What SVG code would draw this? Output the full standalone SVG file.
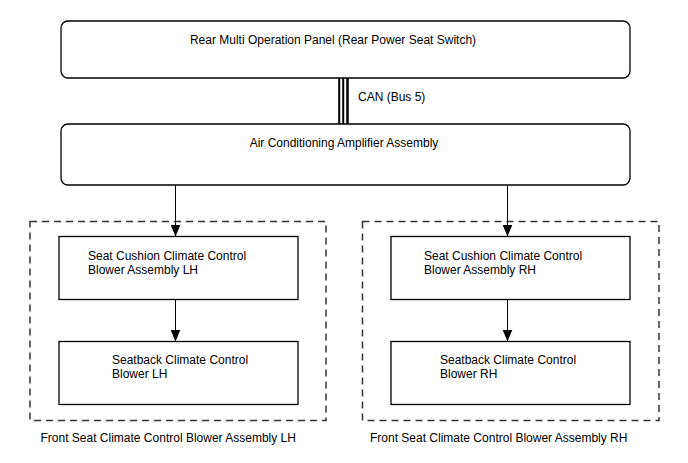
<svg xmlns="http://www.w3.org/2000/svg" width="688" height="463" viewBox="0 0 688 463">
<style>
.t{font-family:"Liberation Sans",Arial,sans-serif;font-size:12px;fill:#000}
.box{fill:#fff;stroke:#000;stroke-width:1.3}
.grp{fill:none;stroke:#333;stroke-width:1.5;stroke-dasharray:7,5}
.ln{stroke:#000;stroke-width:1;fill:none}
.can{stroke:#000}
</style>
<defs>
<marker id="ah" markerWidth="12" markerHeight="10" refX="12" refY="5" orient="auto" markerUnits="userSpaceOnUse">
<path d="M0,0 L12,5 L0,10 Z" fill="#000"/>
</marker>
</defs>
<rect width="688" height="463" fill="#fff"/>
<g id="group-lh">
<rect class="grp" x="30" y="221.5" width="296" height="199"/>
<text class="t" x="40.5" y="442">Front Seat Climate Control Blower Assembly LH</text>
</g>
<g id="group-rh">
<rect class="grp" x="362.5" y="221.5" width="296.5" height="199"/>
<text class="t" x="370" y="442">Front Seat Climate Control Blower Assembly RH</text>
</g>
<g id="rear-panel">
<rect class="box" x="61" y="21" width="569" height="57" rx="7"/>
<text class="t" x="333" y="44" text-anchor="middle">Rear Multi Operation Panel (Rear Power Seat Switch)</text>
</g>
<g id="ac-amp">
<rect class="box" x="61" y="124" width="569" height="61" rx="7"/>
<text class="t" x="344" y="147" text-anchor="middle">Air Conditioning Amplifier Assembly</text>
</g>
<g id="cushion-lh">
<rect class="box" x="59" y="236.5" width="239" height="63"/>
<text class="t" x="88" y="260">Seat Cushion Climate Control</text>
<text class="t" x="88" y="274">Blower Assembly LH</text>
</g>
<g id="seatback-lh">
<rect class="box" x="59" y="341.5" width="239" height="63"/>
<text class="t" x="112" y="364">Seatback Climate Control</text>
<text class="t" x="112" y="378">Blower LH</text>
</g>
<g id="cushion-rh">
<rect class="box" x="391" y="236.5" width="239" height="63"/>
<text class="t" x="424" y="260">Seat Cushion Climate Control</text>
<text class="t" x="424" y="274">Blower Assembly RH</text>
</g>
<g id="seatback-rh">
<rect class="box" x="391" y="341.5" width="239" height="63"/>
<text class="t" x="440" y="364">Seatback Climate Control</text>
<text class="t" x="440" y="378">Blower RH</text>
</g>
<g id="connectors">
<line class="can" x1="339.2" y1="78" x2="339.2" y2="124" stroke-width="2"/>
<line class="can" x1="343.2" y1="78" x2="343.2" y2="124" stroke-width="2"/>
<line class="can" x1="347.5" y1="78" x2="347.5" y2="124" stroke-width="2.5"/>
<text class="t" x="358" y="101">CAN (Bus 5)</text>
<line class="ln" x1="175.5" y1="185" x2="175.5" y2="236.5" marker-end="url(#ah)"/>
<line class="ln" x1="175.5" y1="299.5" x2="175.5" y2="341.5" marker-end="url(#ah)"/>
<line class="ln" x1="507.5" y1="185" x2="507.5" y2="236.5" marker-end="url(#ah)"/>
<line class="ln" x1="507.5" y1="299.5" x2="507.5" y2="341.5" marker-end="url(#ah)"/>
</g>
</svg>
